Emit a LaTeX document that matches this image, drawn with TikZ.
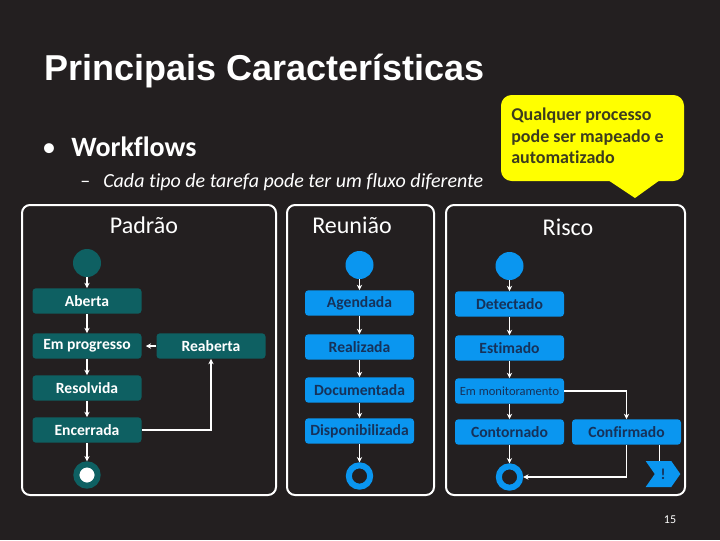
\documentclass[tikz,border=0pt]{standalone}
\usepackage{fontspec}
\setmainfont{Carlito}[Ligatures=NoCommon]
\newfontfamily\titlefont{Liberation Sans}
\usepackage{tikz}
\usetikzlibrary{arrows.meta,positioning,shapes.symbols}
\usepackage{xcolor}
\definecolor{slidebg}{RGB}{35,31,32}
\definecolor{tealbox}{RGB}{14,96,98}
\definecolor{bluebox}{RGB}{10,150,240}
\definecolor{navytext}{RGB}{22,50,90}
\definecolor{notebg}{RGB}{255,255,0}
\definecolor{notetext}{RGB}{60,60,30}

\tikzset{
  panel/.style={draw=white, line width=1.5pt, rounded corners=6pt},
  state/.style={rectangle, rounded corners=2.5pt, minimum width=81.75pt, minimum height=19pt, inner sep=0pt, font=\fontsize{11.7}{13}\selectfont\bfseries},
  padstate/.style={state, fill=tealbox, text=white},
  bluestate/.style={state, fill=bluebox, text=navytext},
  startdot/.style={circle, minimum size=21pt, inner sep=0pt},
  enddot/.style={circle, minimum size=16pt, inner sep=0pt, line width=4.5pt},
  flow/.style={->, draw=white, line width=1pt},
  paneltitle/.style={text=white, font=\fontsize{18}{20}\selectfont, anchor=base},
}

\begin{document}
\begin{tikzpicture}[x=0.75pt, y=-0.75pt, >={Stealth[length=4pt,width=4pt]}]

  % slide background
\fill[slidebg] (0,0) rectangle (720,540);

  % heading and bullets
\node[anchor=base west, inner sep=0pt, text=white, font=\titlefont\fontsize{27}{30}\selectfont\bfseries] (title) at (44,80) {Principais Características};
\node[anchor=base, inner sep=0pt, text=white, font=\fontsize{21}{24}\selectfont] (bullet) at (49,156) {\textbullet};
\node[anchor=base west, inner sep=0pt, text=white, font=\fontsize{21}{24}\selectfont\bfseries] (wf) at (71,156) {Workflows};
\node[anchor=base west, inner sep=0pt, text=white, font=\fontsize{15}{17}\selectfont] (dash) at (80,187) {--};
\node[anchor=base west, inner sep=0pt, text=white, font=\fontsize{15}{17}\selectfont\itshape] (sub) at (103,187) {Cada tipo de tarefa pode ter um fluxo diferente};

  % callout
\fill[notebg, rounded corners=8pt] (501,95) rectangle (684,181);
\fill[notebg] (608,180) -- (660,180) -- (635,198) -- cycle;
\node[anchor=north west, inner sep=0pt, align=left, text=notetext, font=\fontsize{13.5}{16}\selectfont\bfseries] (note) at (511,108) {Qualquer processo\\pode ser mapeado e\\automatizado};

  % panels
\draw[panel] (22,205) rectangle (276,495);
\draw[panel] (287,205) rectangle (434,495);
\draw[panel] (446,205) rectangle (685,495);
\node[paneltitle] (tpad) at (144,233) {Padrão};
\node[paneltitle] (treu) at (352,233) {Reunião};
\node[paneltitle] (tris) at (568,235) {Risco};

  % Padrao
\node[startdot, fill=tealbox] (pstart) at (87,263) {}; \node[padstate] (aberta) at (87,301) {Aberta}; \node[padstate] (emprog) at (87,346) {Em progresso}; \node[padstate] (reab) at (211,346) {Reaberta}; \node[padstate] (resolv) at (87,388) {Resolvida}; \node[padstate] (encerr) at (87,430) {Encerrada}; \node[enddot, draw=tealbox, fill=white] (pend) at (87,475) {};

\draw[flow] (pstart) -- (aberta); \draw[flow] (aberta) -- (emprog); \draw[flow] (emprog) -- (resolv); \draw[flow] (resolv) -- (encerr); \draw[flow] (encerr) -- (pend); \draw[flow, shorten >=3pt] (reab) -- (emprog); \draw[flow] (encerr) -| (reab);

  % Reuniao
\node[startdot, fill=bluebox] (rstart) at (359.5,265) {}; \node[bluestate] (agend) at (359.5,303) {Agendada}; \node[bluestate] (realiz) at (359.5,347) {Realizada}; \node[bluestate] (docum) at (359.5,390) {Documentada}; \node[bluestate] (dispon) at (359.5,431) {Disponibilizada}; \node[enddot, draw=bluebox, fill=slidebg] (rend) at (359.5,476) {};

\draw[flow] (rstart) -- (agend); \draw[flow] (agend) -- (realiz); \draw[flow] (realiz) -- (docum); \draw[flow] (docum) -- (dispon); \draw[flow] (dispon) -- (rend);

  % Risco
\node[startdot, fill=bluebox] (kstart) at (509.5,266) {}; \node[bluestate] (detect) at (509.5,304) {Detectado}; \node[bluestate] (estim) at (509.5,348) {Estimado}; \node[bluestate, font=\fontsize{9.4}{10}\selectfont] (monit) at (509.5,391) {Em monitoramento}; \node[bluestate] (contorn) at (509.5,432) {Contornado}; \node[bluestate] (confirm) at (626.5,432) {Confirmado}; \node[enddot, draw=bluebox, fill=slidebg] (kend) at (509.5,477) {};
\node[signal, signal to=east, signal from=west, signal pointer angle=110, fill=bluebox, text=navytext, minimum width=26pt, minimum height=19.5pt, inner sep=0pt, font=\fontsize{11.5}{13}\selectfont\bfseries] (alert) at (663,474) {!};

\draw[flow] (kstart) -- (detect); \draw[flow] (detect) -- (estim); \draw[flow] (estim) -- (monit); \draw[flow] (monit) -- (contorn); \draw[flow] (contorn) -- (kend); \draw[flow] (monit) -| (confirm); \draw[flow] (confirm) |- (kend); \draw[white, line width=1pt] ([xshift=-2.5pt]alert.north) -- ([xshift=-2.5pt]alert.north |- confirm.south);

  % page number
\node[anchor=base, inner sep=0pt, text=white, font=\fontsize{9}{10}\selectfont] (pageno) at (670,523) {15};

\end{tikzpicture}
\end{document}
